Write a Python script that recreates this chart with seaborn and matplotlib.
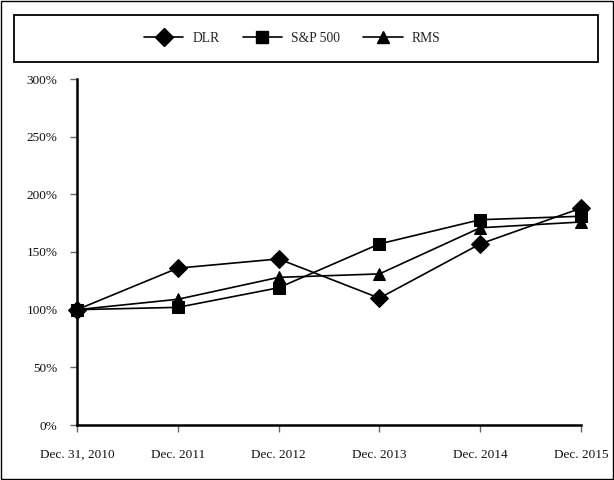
import numpy as np
import pandas as pd
import matplotlib
matplotlib.use("Agg")
import matplotlib.pyplot as plt
from matplotlib.patches import Rectangle
from matplotlib.ticker import PercentFormatter
import seaborn as sns

# --- dati ---
periods = ["Dec. 31, 2010", "Dec. 2011", "Dec. 2012", "Dec. 2013", "Dec. 2014", "Dec. 2015"]
dlr = [100, 136, 144, 110, 157, 188]
sp500 = [100, 102, 119, 157, 178, 181]
rms = [100, 109, 128, 131, 171, 176]

series = {"DLR": dlr, "S&P 500": sp500, "RMS": rms}
df = pd.DataFrame([
    {"pos": i, "label": periods[i], "serie": name, "valore": v}
    for name, vals in series.items() for i, v in enumerate(vals)
])

sns.set_style("white")
plt.rcParams["font.family"] = ["Liberation Serif", "DejaVu Serif"]

fig = plt.figure(figsize=(6.14, 4.8), dpi=100)
ax = fig.add_axes([77 / 614, 1 - 425 / 480, 504 / 614, 346 / 480])

sns.lineplot(data=df, x="pos", y="valore", hue="serie", style="serie",
             markers={"DLR": "D", "S&P 500": "s", "RMS": "^"}, dashes=False,
             palette={"DLR": "black", "S&P 500": "black", "RMS": "black"},
             markersize=9, markeredgecolor="black", linewidth=1.2,
             ax=ax, legend=False, clip_on=False)

ax.set_xlim(0, len(periods) - 1)
ax.set_ylim(0, 300)
ax.set_xticks(range(len(periods)))
ax.set_xticklabels(periods)
ax.set_yticks(np.arange(0, 301, 50))
ax.yaxis.set_major_formatter(PercentFormatter(decimals=0))
ax.set_xlabel("")
ax.set_ylabel("")
sns.despine(ax=ax)
for s in ["left", "bottom"]:
    ax.spines[s].set_color("black")
    ax.spines[s].set_linewidth(1.8)
ax.tick_params(axis="x", direction="out", length=5, width=1, color="#666666",
               bottom=True, pad=12, labelsize=9.5, labelcolor="#111111")
ax.tick_params(axis="y", direction="out", length=5, width=1, color="#666666",
               left=True, pad=9, labelsize=9.5, labelcolor="#111111")

# --- legenda in un riquadro in alto ---
fig.patches.append(Rectangle((14 / 614, 1 - 62 / 480), 584 / 614, 47 / 480,
                             transform=fig.transFigure, fill=False,
                             edgecolor="black", linewidth=1.3))
handles = [plt.Line2D([], [], color="black", marker=m, markersize=9, linewidth=1.2)
           for m in ["D", "s", "^"]]
fig.legend(handles, list(series.keys()), loc="center", ncol=3,
           bbox_to_anchor=(292 / 614, 1 - 38 / 480), frameon=False,
           fontsize=9.8, handlelength=2.9, handletextpad=0.65, columnspacing=1.7)

# bordo esterno
fig.patches.append(Rectangle((0.002, 0.002), 0.996, 0.996, transform=fig.transFigure,
                             fill=False, edgecolor="black", linewidth=1))

fig.savefig("out.png", dpi=100)
